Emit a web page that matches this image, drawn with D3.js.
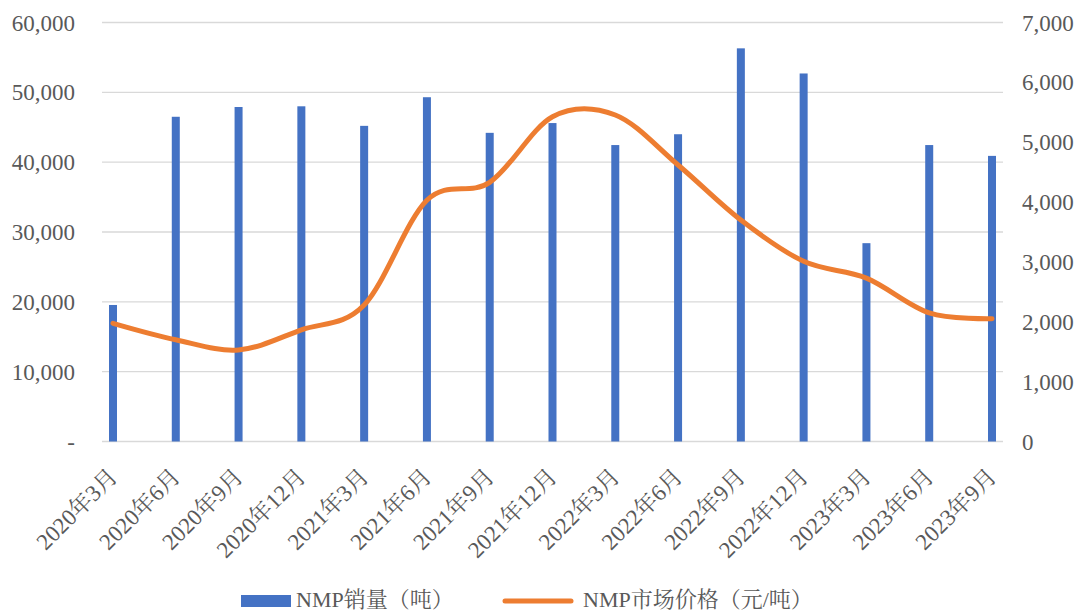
<!DOCTYPE html>
<html>
<head>
<meta charset="utf-8">
<script src="https://cdn.jsdelivr.net/npm/d3@7"></script>
<style>
  html, body { margin: 0; padding: 0; background: #fff; }
  svg { display: block; }
  text { font-family: "Liberation Serif", "Noto Serif CJK SC", "Times New Roman", serif; fill: #595959; }
</style>
</head>
<body>
<svg id="chart" width="1080" height="612"></svg>
<script>
const categories = ["2020年3月","2020年6月","2020年9月","2020年12月","2021年3月","2021年6月","2021年9月","2021年12月","2022年3月","2022年6月","2022年9月","2022年12月","2023年3月","2023年6月","2023年9月"];
const salesVolume = [19550, 46500, 47900, 48000, 45200, 49300, 44200, 45600, 42450, 44000, 56300, 52700, 28400, 42450, 40900];
const marketPrice = [1975, 1700, 1530, 1865, 2280, 4030, 4330, 5425, 5455, 4620, 3700, 3010, 2730, 2150, 2050];
const leftTicks = [0, 10000, 20000, 30000, 40000, 50000, 60000];
const rightTicks = [0, 1000, 2000, 3000, 4000, 5000, 6000, 7000];
const seriesNames = ["NMP销量（吨）", "NMP市场价格（元/吨）"];

(function () {
const svg = d3.select("#chart");
const gridLeft = 102, gridRight = 1003;
const plotTop = 22.5, plotBottom = 441.5;

const x = d3.scalePoint().domain(categories).range([113, 992]);
const yL = d3.scaleLinear().domain([0, 60000]).range([plotBottom, plotTop]);
const yR = d3.scaleLinear().domain([0, 7000]).range([plotBottom, plotTop]);

// gridlines
svg.append("g").selectAll("line").data(leftTicks).join("line")
  .attr("x1", gridLeft).attr("x2", gridRight)
  .attr("y1", d => yL(d)).attr("y2", d => yL(d))
  .attr("stroke", "#d9d9d9").attr("stroke-width", 1.3);

// left axis labels
const fmt = d3.format(",");
svg.append("g").selectAll("text").data(leftTicks).join("text")
  .attr("x", 75).attr("y", d => yL(d))
  .attr("dy", "0.35em")
  .attr("text-anchor", "end")
  .style("font-size", "23px")
  .text(d => d === 0 ? "-" : fmt(d));

// right axis labels
svg.append("g").selectAll("text").data(rightTicks).join("text")
  .attr("x", 1022).attr("y", d => yR(d))
  .attr("dy", "0.35em")
  .attr("text-anchor", "start")
  .style("font-size", "23px")
  .text(d => fmt(d));

// bars
const barW = 8;
svg.append("g").selectAll("rect").data(salesVolume).join("rect")
  .attr("x", (d, i) => x(categories[i]) - barW / 2)
  .attr("width", barW)
  .attr("y", d => yL(d))
  .attr("height", d => plotBottom - yL(d))
  .attr("fill", "#4472c4");

// line
const line = d3.line()
  .x((d, i) => x(categories[i]))
  .y(d => yR(d))
  .curve(d3.curveCardinal.tension(0));
svg.append("path").datum(marketPrice)
  .attr("d", line)
  .attr("fill", "none")
  .attr("stroke", "#ed7d31")
  .attr("stroke-width", 5)
  .attr("stroke-linecap", "round")
  .attr("stroke-linejoin", "round");

// x labels
svg.append("g").selectAll("text").data(categories).join("text")
  .attr("transform", d => `translate(${x(d) + 6},${478}) rotate(-45)`)
  .attr("text-anchor", "end")
  .style("font-size", "23px")
  .text(d => d);

// legend
const lg = svg.append("g");
lg.append("rect").attr("x", 241).attr("y", 595).attr("width", 50).attr("height", 12).attr("fill", "#4472c4");
lg.append("text").attr("x", 296).attr("y", 607).style("font-size", "22px").text(seriesNames[0]);
lg.append("line").attr("x1", 505).attr("x2", 571).attr("y1", 601).attr("y2", 601)
  .attr("stroke", "#ed7d31").attr("stroke-width", 5).attr("stroke-linecap", "round");
lg.append("text").attr("x", 583).attr("y", 607).style("font-size", "22px").text(seriesNames[1]);
})();
</script>
</body>
</html>
